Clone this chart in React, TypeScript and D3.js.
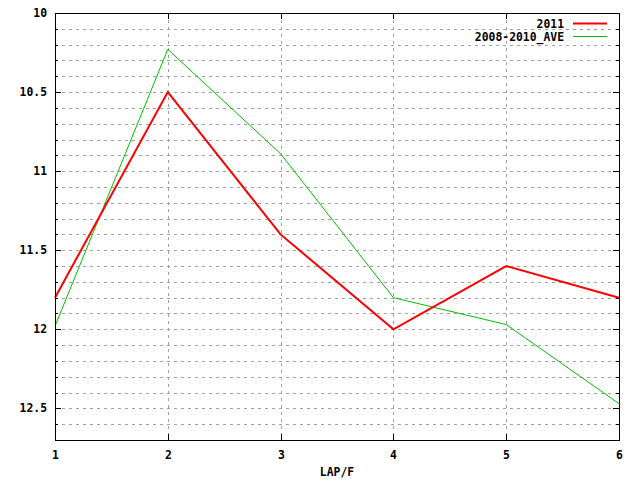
import React from "react";
import * as d3 from "d3";

const laps = [1, 2, 3, 4, 5, 6];
const series2011 = [11.8, 10.5, 11.4, 12.0, 11.6, 11.8];
const seriesAve = [11.98, 10.23, 10.89, 11.8, 11.97, 12.47];
const yMajorTicks = [10, 10.5, 11, 11.5, 12, 12.5];
const yMinorTicks = d3.range(10, 12.71, 0.1).map((v) => +v.toFixed(1));
const seriesNames = ["2011", "2008-2010_AVE"];

const W = 640, H = 480;
const L = 55, R = 619, T = 13, B = 440;
const font = "'DejaVu Sans Mono', monospace";

export default function App() {
  const x = d3.scaleLinear().domain([1, 6]).range([L, R]);
  const y = d3.scaleLinear().domain([10, 12.7]).range([T, B]);
  const line = d3.line<number>().x((_, i) => x(laps[i])).y((d) => y(d));
  const textStyle = { fontFamily: font, fontSize: 11.4, fontWeight: "bold" as const, fill: "#000" };
  return (
    <svg width={W} height={H} style={{ position: "absolute", left: 0, top: 0, background: "#fff" }}>
      <rect x={0} y={0} width={W} height={H} fill="#fff" />
      {yMinorTicks.filter((v) => v > 10 && v < 12.7).map((v) => (
        <line key={"gy" + v} x1={L} x2={R} y1={Math.round(y(v)) + 0.5} y2={Math.round(y(v)) + 0.5} stroke="#a0a0a0" strokeDasharray="3,4" />
      ))}
      {laps.filter((v) => v > 1 && v < 6).map((v) => (
        <line key={"gx" + v} x1={Math.round(x(v)) + 0.5} x2={Math.round(x(v)) + 0.5} y1={T} y2={B} stroke="#a0a0a0" strokeDasharray="3,4" />
      ))}
      {yMinorTicks.map((v) => {
        const major = yMajorTicks.some((m) => Math.abs(m - v) < 1e-6);
        const len = major ? 6 : 3;
        const yy = Math.round(y(v)) + 0.5;
        return (
          <g key={"ty" + v}>
            <line x1={L} x2={L + len} y1={yy} y2={yy} stroke="#000" />
            <line x1={R - len} x2={R} y1={yy} y2={yy} stroke="#000" />
          </g>
        );
      })}
      {laps.map((v) => {
        const xx = Math.round(x(v)) + 0.5;
        return (
          <g key={"tx" + v}>
            <line x1={xx} x2={xx} y1={B} y2={B - 6} stroke="#000" />
            <line x1={xx} x2={xx} y1={T} y2={T + 6} stroke="#000" />
            <text x={xx} y={459} textAnchor="middle" style={textStyle}>{v}</text>
          </g>
        );
      })}
      {yMajorTicks.map((v) => (
        <text key={"ly" + v} x={47} y={y(v) + 4} textAnchor="end" style={textStyle}>{v}</text>
      ))}
      <text x={337} y={476} textAnchor="middle" style={textStyle}>LAP/F</text>
      <path d={line(seriesAve) || ""} fill="none" stroke="#00c000" strokeWidth={1} />
      <path d={line(series2011) || ""} fill="none" stroke="#ff0000" strokeWidth={2} />
      <text x={564} y={27.5} textAnchor="end" style={textStyle}>{seriesNames[0]}</text>
      <line x1={573} x2={607} y1={23.5} y2={23.5} stroke="#ff0000" strokeWidth={2} />
      <text x={564} y={40.5} textAnchor="end" style={textStyle}>{seriesNames[1]}</text>
      <line x1={573} x2={607} y1={36.5} y2={36.5} stroke="#00c000" strokeWidth={1} />
      <rect x={L + 0.5} y={T + 0.5} width={R - L} height={B - T} fill="none" stroke="#000" />
    </svg>
  );
}
